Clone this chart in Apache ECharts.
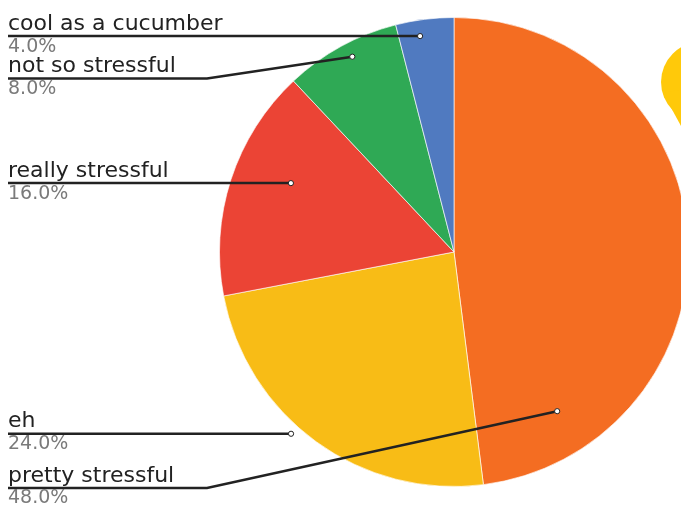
<!DOCTYPE html>
<html>
<head>
<meta charset="utf-8">
<script src="https://cdn.jsdelivr.net/npm/echarts@6/dist/echarts.min.js"></script>
<style>
  html, body { margin: 0; padding: 0; background: #fff; }
  #chart { width: 681px; height: 511px; }
</style>
</head>
<body>
<div id="chart"></div>
<script>
// Survey answers and their shares (percent)
const categories = ['pretty stressful', 'eh', 'really stressful', 'not so stressful', 'cool as a cucumber'];
const shares = [48, 24, 16, 8, 4];
const sliceColors = ['#F46D22', '#F8BC16', '#EB4435', '#2FA955', '#507AC0'];

// Leader anchors: where along each slice's arc (0..1) and how far out (fraction of radius)
const anchorAlong = [0.851, 0.568, 0.585, 0.545, 0.38];
const anchorRadius = [0.809, 1.041, 0.755, 0.939, 0.932];
// Leader row height; null = the row runs level with its anchor
const leaderRow = [488, null, null, 78.5, null];

const CENTER = [454, 252];
const RADIUS = 234.5;
const LEFT = 8;
const BEND_X = 207;
const FONT = '"DejaVu Sans", "Noto Sans", sans-serif';

const total = shares.reduce((a, b) => a + b, 0);
const starts = [];
shares.reduce((acc, v, i) => { starts[i] = acc; return acc + v; }, 0);
const anchors = shares.map((v, i) => [anchorRadius[i], starts[i] + anchorAlong[i] * v, i]);

const chart = echarts.init(document.getElementById('chart'), null, { renderer: 'canvas' });

chart.setOption({
  animation: false,
  backgroundColor: '#ffffff',
  polar: { center: CENTER, radius: RADIUS },
  angleAxis: { type: 'value', min: 0, max: total, startAngle: 90, clockwise: true, show: false },
  radiusAxis: { type: 'value', min: 0, max: 1, show: false },
  // yellow drop peeking in at the right edge
  graphic: [
    { type: 'circle', z: 0, shape: { cx: 701, cy: 82, r: 40 }, style: { fill: '#FFC90A' } },
    { type: 'polygon', z: 0, shape: { points: [[663, 93], [681, 126], [705, 126], [705, 85]] }, style: { fill: '#FFC90A' } }
  ],
  series: [
    {
      type: 'pie',
      center: CENTER,
      radius: RADIUS,
      startAngle: 90,
      clockwise: true,
      avoidLabelOverlap: false,
      silent: true,
      label: { show: false },
      labelLine: { show: false },
      itemStyle: { borderColor: 'rgba(255,255,255,0.8)', borderWidth: 0.8 },
      data: categories.map((name, i) => ({ name, value: shares[i], itemStyle: { color: sliceColors[i] } }))
    },
    {
      type: 'custom',
      coordinateSystem: 'polar',
      silent: true,
      z: 5,
      data: anchors,
      renderItem: function (params, api) {
        const i = api.value(2);
        const p = api.coord([api.value(0), api.value(1)]);
        const level = leaderRow[i] == null;
        const y = level ? p[1] : leaderRow[i];
        const pts = level ? [p, [LEFT, y]] : [p, [BEND_X, y], [LEFT, y]];
        return {
          type: 'group',
          children: [
            { type: 'polyline', shape: { points: pts }, style: { stroke: '#222222', lineWidth: 2.5, fill: null } },
            { type: 'circle', shape: { cx: p[0], cy: p[1], r: 2.6 }, style: { fill: '#ffffff', stroke: '#222222', lineWidth: 1 } },
            { type: 'text', x: LEFT, y: y - 12,
              style: { text: categories[i], fill: '#222222', font: '400 22px ' + FONT, align: 'left', verticalAlign: 'middle' } },
            { type: 'text', x: LEFT, y: y + 10.5,
              style: { text: shares[i].toFixed(1) + '%', fill: '#7a7a7a', font: '400 19px ' + FONT, align: 'left', verticalAlign: 'middle' } }
          ]
        };
      }
    }
  ]
});
</script>
</body>
</html>
